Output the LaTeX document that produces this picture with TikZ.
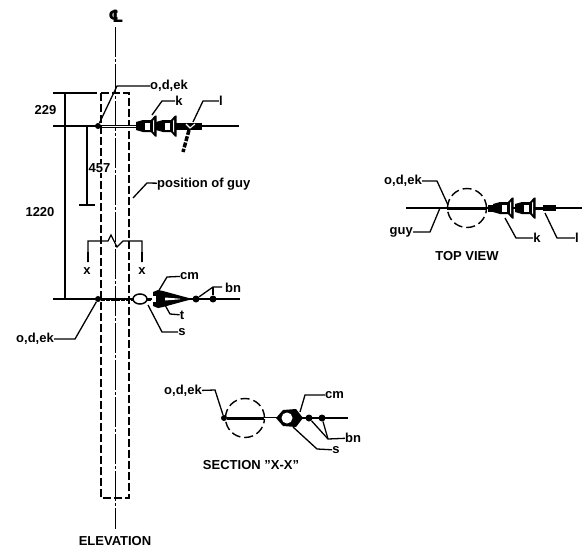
\documentclass[tikz,border=0pt]{standalone}
\usepackage{fontspec}
\setmainfont{Liberation Sans}
\newfontfamily\clfont{DejaVu Sans}
\usetikzlibrary{positioning}
\tikzset{
    lbl/.style={font=\bfseries\fontsize{13}{14}\selectfont,inner sep=0pt,text=black},
    leader/.style={line width=1.3pt},
    guy/.style={line width=1.5pt},
    guyrod/.style={line width=3pt},
    centre/.style={line width=1.5pt,dash pattern=on 30pt off 2pt on 3pt off 2pt},
    hidden/.style={line width=1.4pt,dash pattern=on 8pt off 3pt},
    hole/.style={circle,draw,line width=1.4pt,dash pattern=on 9pt off 4pt,minimum size=39pt,inner sep=0pt},
    knob/.style={circle,fill=black,minimum size=6pt,inner sep=0pt},
    bell/.pic={
        \fill (-8,-4) -- (-1,-6) -- (7,-6) -- (11,-10.5) -- (12.5,-10.5) -- (12.5,10.5) -- (11,10.5) -- (7,6) -- (-1,6) -- (-8,4) -- cycle;
        \fill[white] (0.5,-3.5) rectangle (5.5,3.5);
        \fill[white] (9,-5) -- (10,-6.5) -- (10,6.5) -- (9,5) -- cycle;
    }
}
\begin{document}
\begin{tikzpicture}[x=1pt,y=-1pt]
    \useasboundingbox (0,0) rectangle (582,549);
    % elevation
    \coordinate (ra) at (101,93);
    \coordinate (rb) at (129,93);
    \coordinate (rc) at (129,498);
    \coordinate (rd) at (101,498);
    \draw[hidden] (ra) -- (rb) -- (rc) -- (rd) -- cycle;
    \node[lbl,font=\clfont\bfseries\fontsize{17}{17}\selectfont] (cl) at (116,16) {℄};
    \coordinate (clt) at (115.5,27);
    \coordinate (clb) at (115.5,529);
    \draw[centre] (clt) -- (clb);
    \node[lbl] (elev) at (115,541) {ELEVATION};

    % dimensions
    \coordinate (da) at (53,93);
    \coordinate (db) at (97,93);
    \coordinate (dc) at (53,126);
    \coordinate (dd) at (92,126);
    \coordinate (de) at (53,299);
    \coordinate (df) at (92,299);
    \coordinate (dg) at (65,93);
    \coordinate (dh) at (65,299);
    \coordinate (di) at (87,126);
    \coordinate (dj) at (87,205);
    \coordinate (dk) at (79,205);
    \coordinate (dl) at (95,205);
    \path[draw,leader] (da) -- (db) (dc) -- (dd) (de) -- (df) (dg) -- (dh) (di) -- (dj) (dk) -- (dl);
    \node[lbl] (n229) at (45.5,110) {229};
    \node[lbl,fill=white] (n457) at (99.5,168) {457};
    \node[lbl] (n1220) at (40,212) {1220};

    % section marks
    \coordinate (xa) at (88,262);
    \coordinate (xb) at (88,241);
    \coordinate (xc) at (108,241);
    \coordinate (xd) at (111,235);
    \coordinate (xe) at (117,247);
    \coordinate (xf) at (123,241);
    \coordinate (xg) at (142,241);
    \coordinate (xh) at (142,262);
    \draw[leader] (xa) -- (xb) -- (xc) -- (xd) -- (xe) -- (xf) -- (xg) -- (xh);
    \draw[line width=2.5pt] (xa) -- +(0,-10);
    \draw[line width=2.5pt] (xh) -- +(0,-10);
    \node[lbl] (xl) at (87,271) {x};
    \node[lbl] (xr) at (142,271) {x};

    % top guy
    \node[knob] (ta) at (98,126) {};
    \coordinate (tb) at (239,126);
    \coordinate (tc) at (136,126);
    \coordinate (td) at (202,126);
    \coordinate (te) at (176,126);
    \draw[guy] (dd) -- (tb);
    \draw[guyrod] (ta) -- (tc);
    \draw[white,line width=0.7pt] (102,126) -- (tc);
    \draw[line width=7pt] (te) -- (td);
    \pic at (144,126) {bell};
    \pic at (164,126) {bell};
    \coordinate (tf) at (189,130);
    \coordinate (tg) at (183,152);
    \draw[line width=3.5pt,dash pattern=on 5pt off 1.5pt] (tf) -- (tg);
    \coordinate (ty1) at (186,124);
    \coordinate (ty2) at (190,128);
    \coordinate (ty3) at (195,124);
    \draw[white,line width=1.1pt] (ty1) -- (ty2) -- (ty3);
    \node[lbl,anchor=west] (tl1) at (150,86) {o,d,ek};
    \coordinate (tl1a) at (117,86);
    \draw[leader] (tl1) -- (tl1a) -- (ta);
    \node[lbl] (tl2) at (179,101) {k};
    \coordinate (tl2a) at (162,101);
    \coordinate (tl2b) at (152,115);
    \draw[leader] (tl2) -- (tl2a) -- (tl2b);
    \node[lbl] (tl3) at (221,101) {l};
    \coordinate (tl3a) at (203,101);
    \coordinate (tl3b) at (193,122);
    \draw[leader] (tl3) -- (tl3a) -- (tl3b);
    \node[lbl,anchor=west] (gl) at (157,184) {position of guy};
    \coordinate (gla) at (147,183);
    \coordinate (glb) at (133,198);
    \draw[leader] (gl) -- (gla) -- (glb);

    % lower guy
    \node[knob] (la) at (98,299) {};
    \coordinate (lb) at (240,299);
    \coordinate (lc) at (133,299);
    \coordinate (le) at (193,299);
    \draw[guy] (df) -- (lb);
    \draw[guyrod,dash pattern=on 4pt off 1pt] (la) -- (lc);
    \draw[line width=1.5pt,fill=white] (140,299) ellipse (7 and 5);
    \draw[line width=3pt] (147,299) -- (151,299);
    \fill (153,292) -- (158,290) -- (163,291) -- (185,297) -- (le) -- (185,301) -- (163,307) -- (158,308) -- (153,306) -- cycle;
    \fill[white] (151.5,296) rectangle (156,302);
    \fill[white] (165,297.5) -- (180,298.7) -- (180,299.3) -- (165,300.5) -- cycle;
    \node[knob,minimum size=7pt] (lk1) at (196,299) {};
    \node[knob,minimum size=7pt] (lk2) at (213,299) {};
    \node[lbl,anchor=west] (ll1) at (225,288) {bn};
    \coordinate (ll1a) at (213,287);
    \coordinate (ll1b) at (222,287);
    \draw[leader] (ll1b) -- (ll1a) -- (lk1);
    \draw[leader] (ll1a) -- (lk2);
    \node[lbl,anchor=west] (ll2) at (180,276) {cm};
    \coordinate (ll2a) at (167,277);
    \coordinate (ll2b) at (158,292);
    \draw[leader] (ll2) -- (ll2a) -- (ll2b);
    \node[lbl] (ll3) at (182,315) {t};
    \coordinate (ll3a) at (170,314);
    \coordinate (ll3b) at (165,305);
    \draw[leader] (ll3) -- (ll3a) -- (ll3b);
    \node[lbl] (ll4) at (182,332) {s};
    \coordinate (ll4a) at (162,332);
    \coordinate (ll4b) at (148,305);
    \draw[leader] (ll4) -- (ll4a) -- (ll4b);
    \node[lbl,anchor=east] (ll5) at (54,339) {o,d,ek};
    \coordinate (ll5a) at (75,339);
    \draw[leader] (ll5) -- (ll5a) -- (la);

    % top view
    \node[hole] (va) at (467,208) {};
    \coordinate (vb) at (406,208);
    \coordinate (vc) at (582,208);
    \coordinate (vd) at (447,208);
    \coordinate (ve) at (487,208);
    \coordinate (vf) at (535,208);
    \coordinate (vg) at (556,208);
    \coordinate (vh) at (543,208);
    \draw[guy] (vb) -- (vc);
    \draw[guyrod] (vd) -- (ve);
    \draw[line width=7pt] (488,208) -- (497,208);
    \draw[line width=3pt] (vf) -- (vg);
    \draw[line width=6.5pt] (vh) -- (vg);
    \pic at (501,208) {bell};
    \pic at (523,208) {bell};
    \node[lbl,anchor=east] (vl1) at (422,181) {o,d,ek};
    \coordinate (vl1a) at (437,181);
    \coordinate (vl1b) at (448,205);
    \draw[leader] (vl1) -- (vl1a) -- (vl1b);
    \node[lbl,anchor=east] (vl2) at (413,232) {guy};
    \coordinate (vl2a) at (430,232);
    \coordinate (vl2b) at (440,208);
    \draw[leader] (vl2) -- (vl2a) -- (vl2b);
    \node[lbl] (vl3) at (537,238) {k};
    \coordinate (vl3a) at (516,238);
    \coordinate (vl3b) at (505,218);
    \draw[leader] (vl3) -- (vl3a) -- (vl3b);
    \node[lbl] (vl4) at (577,238) {l};
    \coordinate (vl4a) at (557,238);
    \coordinate (vl4b) at (545,213);
    \draw[leader] (vl4) -- (vl4a) -- (vl4b);
    \node[lbl] (vt) at (467,256) {TOP VIEW};

    % section x-x
    \node[hole] (sa) at (245,418) {};
    \node[knob] (sb) at (224,418) {};
    \coordinate (sc) at (264,418);
    \coordinate (sd) at (348,418);
    \draw[guy] (sb) -- (sd);
    \draw[guyrod] (sb) -- (sc);
    \draw[white,line width=0.7pt] (sc) -- (278,418);
    \fill (276,418) -- (283,410) -- (296,409) -- (303,418) -- (296,427) -- (283,426) -- cycle;
    \fill[white] (287,418) circle (5.5);
    \node[knob,minimum size=7pt] (sk1) at (309,418) {};
    \node[knob,minimum size=7pt] (sk2) at (322,418) {};
    \node[lbl,anchor=east] (sl1) at (202,391) {o,d,ek};
    \coordinate (sl1a) at (215,390);
    \draw[leader] (sl1) -- (sl1a) -- (sb);
    \node[lbl,anchor=west] (sl2) at (325,395) {cm};
    \coordinate (sl2a) at (305,395);
    \coordinate (sl2b) at (300,412);
    \draw[leader] (sl2) -- (sl2a) -- (sl2b);
    \node[lbl,anchor=west] (sl3) at (345,438) {bn};
    \coordinate (sl3a) at (328,439);
    \draw[leader] (sl3) -- (sl3a) -- (sk1);
    \draw[leader] (sl3a) -- (sk2);
    \node[lbl] (sl4) at (336,450) {s};
    \coordinate (sl4a) at (317,449);
    \coordinate (sl4b) at (293,427);
    \draw[leader] (sl4) -- (sl4a) -- (sl4b);
    \node[lbl] (st) at (251,465) {SECTION "X-X"};
\end{tikzpicture}
\end{document}
